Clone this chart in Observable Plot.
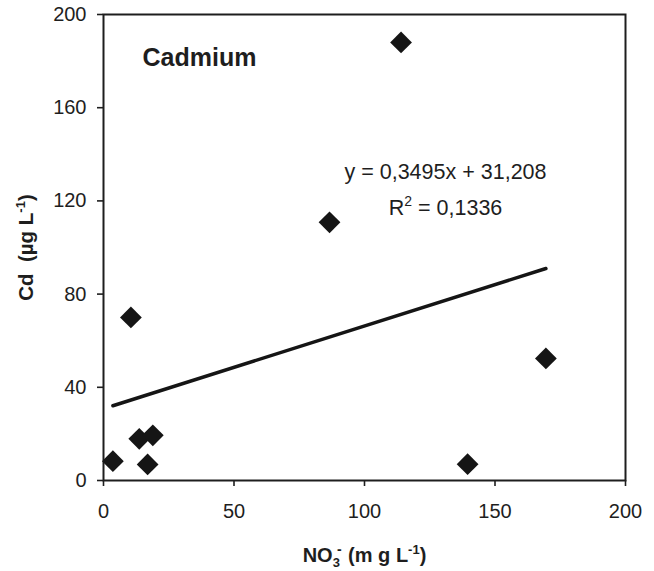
<!DOCTYPE html>
<html><head><meta charset="utf-8">
<script src="https://cdn.jsdelivr.net/npm/d3@7"></script>
<script src="https://cdn.jsdelivr.net/npm/@observablehq/plot@0.6"></script>
<style>html,body{margin:0;padding:0;background:#fff} svg{display:block}</style>
</head><body><div id="chart"></div>
<script>
// Data
const nitrate = [3.6, 10.5, 13.7, 16.9, 18.9, 86.6, 114, 139.5, 169.5];
const cadmium = [8.3, 70, 17.9, 6.9, 19.4, 110.8, 188, 7, 52.4];
const xTicks = [0, 50, 100, 150, 200];
const yTicks = [0, 40, 80, 120, 160, 200];
const titleText = ["Cadmium"];
const equationText = ["y = 0,3495x + 31,208"];
const r2Text = ["R2 = 0,1336"];
const yLabelText = ["Cd (µg L-1)"];
const xLabelText = ["NO3- (m g L-1)"];

const points = nitrate.map((x, i) => ({x, y: cadmium[i]}));
const font = "'Liberation Sans', Arial, Helvetica, sans-serif";
const ink = "#1e1e1e";

const chart = Plot.plot({
  width: 654, height: 571,
  marginTop: 14, marginBottom: 91, marginLeft: 103, marginRight: 29,
  style: {fontFamily: font, fontSize: "20px", color: ink, background: "#fff"},
  x: {domain: [0, 200], label: null},
  y: {domain: [0, 200], label: null},
  marks: [
    Plot.axisX({ticks: xTicks, tickSize: 6, tickPadding: 17, fontSize: 20, label: null, stroke: ink, strokeWidth: 1.6, strokeOpacity: 1}),
    Plot.axisY({ticks: yTicks, tickSize: 6, tickPadding: 11, fontSize: 20, label: null, stroke: ink, strokeWidth: 1.6, strokeOpacity: 1}),
    Plot.frame({stroke: ink, strokeWidth: 2}),
    Plot.linearRegressionY(points, {x: "x", y: "y", ci: 0, stroke: "#151515", strokeWidth: 3.5}),
    Plot.dot(points, {x: "x", y: "y", symbol: "diamond2", r: 9.8, fill: "#151515", stroke: "none"}),
    Plot.text(titleText, {frameAnchor: "top-left", dx: 39, dy: 43.5, textAnchor: "start", lineAnchor: "middle", fontSize: 25, fontWeight: "bold", fill: ink}),
    Plot.text(equationText, {frameAnchor: "top-left", dx: 342, dy: 157.5, textAnchor: "middle", lineAnchor: "middle", fontSize: 21.5, fill: ink}),
    Plot.text(r2Text, {frameAnchor: "top-left", dx: 342, dy: 193.5, textAnchor: "middle", lineAnchor: "middle", fontSize: 21.5, fill: ink, className: "r2lab"}),
    Plot.text(yLabelText, {frameAnchor: "left", dx: -77, rotate: -90, textAnchor: "middle", lineAnchor: "middle", fontSize: 20.5, fontWeight: "bold", fill: ink, className: "ylab"}),
    Plot.text(xLabelText, {frameAnchor: "bottom", dy: 75, textAnchor: "middle", lineAnchor: "middle", fontSize: 20, fontWeight: "bold", fill: ink, className: "xlab"})
  ]
});
document.getElementById("chart").appendChild(chart);

// Rich text (sub/superscripts) for labels
function rich(cls, parts) {
  const t = d3.select(chart).select("." + cls + " text");
  if (t.empty()) return;
  t.text(null);
  let shift = 0;
  for (const p of parts) {
    const s = t.append("tspan").text(p.t);
    const target = p.sup ? -p.sup : p.sub ? p.sub : 0;
    if (target !== shift) { s.attr("dy", target - shift); shift = target; }
    if (p.dx) s.attr("dx", p.dx);
    if (p.size) s.attr("font-size", p.size);
  }
}
rich("ylab", [{t: "Cd\u00a0\u00a0(µg L"}, {t: "-1", sup: 8, size: 13}, {t: ")"}]);
rich("xlab", [{t: "NO"}, {t: "3", sub: 5, size: 13}, {t: "-", sup: 8, size: 14, dx: -3}, {t: "\u00a0(m g L", dx: 1}, {t: "-1", sup: 8, size: 13}, {t: ")"}]);
rich("r2lab", [{t: "R"}, {t: "2", sup: 9, size: 14}, {t: " = 0,1336"}]);
</script>
</body></html>
